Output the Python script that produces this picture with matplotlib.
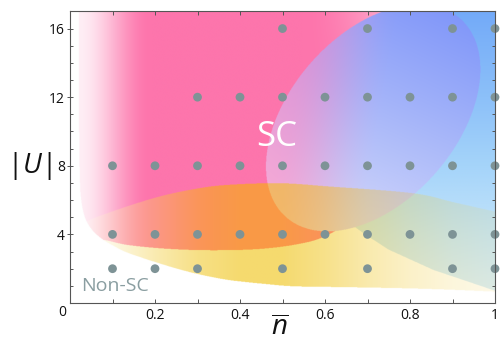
import numpy as np
import matplotlib
matplotlib.use('Agg')
import matplotlib.pyplot as plt
from matplotlib.path import Path

plt.rcParams['font.family'] = ['Open Sans', 'DejaVu Sans']
plt.rcParams['mathtext.fontset'] = 'custom'
plt.rcParams['mathtext.rm'] = 'Open Sans'
plt.rcParams['mathtext.it'] = 'Open Sans:italic'

# ---------------- data ----------------
U_rows = [16, 12, 8, 4, 2]
n_at_U16 = [0.5, 0.7, 0.9, 1.0]
n_at_U12 = [0.3, 0.4, 0.5, 0.6, 0.7, 0.8, 0.9, 1.0]
n_at_U8 = [0.1, 0.2, 0.3, 0.4, 0.5, 0.6, 0.7, 0.8, 0.9, 1.0]
n_at_U4 = [0.1, 0.2, 0.3, 0.4, 0.5, 0.6, 0.7, 0.8, 0.9, 1.0]
n_at_U2 = [0.1, 0.2, 0.3, 0.5, 0.7, 0.9, 1.0]

# SC / non-SC boundary
sc_edge_n = [0.020, 0.021, 0.023, 0.026, 0.031, 0.039, 0.055, 0.078, 0.10, 0.13, 0.17,
             0.21, 0.25, 0.29, 0.33, 0.37, 0.41, 0.45, 0.52, 0.60, 0.70, 0.80, 0.90, 1.0]
sc_edge_U = [17.5, 10.0, 7.0, 6.0, 5.3, 4.73, 4.15, 3.67, 3.35, 2.97, 2.62,
             2.30, 2.00, 1.74, 1.52, 1.34, 1.22, 1.12, 0.97, 0.93, 0.89, 0.84, 0.76, 0.65]
# upper edge of the yellow (weak coupling) region
yellow_top_n = [0.039, 0.055, 0.133, 0.211, 0.29, 0.368, 0.494, 0.611, 0.807, 0.905, 1.0]
yellow_top_U = [4.73, 4.93, 5.61, 6.20, 6.62, 6.87, 6.97, 6.78, 6.39, 5.85, 5.32]
# lower edge of the pink region
pink_bottom_n = [0.0, 0.078, 0.133, 0.211, 0.29, 0.37, 0.447, 0.525, 0.59, 0.65, 0.72]
pink_bottom_U = [3.9, 3.67, 3.38, 3.18, 3.08, 3.07, 3.14, 3.37, 3.77, 4.6, 6.0]
# lower edge of the blue region
blue_bottom_n = [0.60, 0.66, 0.70, 0.75, 0.855, 0.995, 1.0]
blue_bottom_U = [6.0, 4.6, 3.9, 3.1, 1.92, 0.75, 0.7]
# edge of the tilted (violet) ellipse
ellipse_edge_n = [0.800, 0.658, 0.581, 0.501, 0.475, 0.458, 0.474, 0.498, 0.537, 0.592,
                  0.611, 0.651, 0.729, 0.807, 0.870, 0.917, 0.964, 0.967, 0.962, 0.945]
ellipse_edge_U = [17.0, 15.27, 13.87, 12.53, 11.36, 9.33, 6.97, 6.0, 5.03, 3.86,
                  3.77, 4.06, 5.03, 6.39, 8.14, 10.08, 12.3, 13.6, 15.0, 17.0]

x_ticks = [0.2, 0.4, 0.6, 0.8, 1.0]
x_tick_labels = ['0.2', '0.4', '0.6', '0.8', '1']
y_ticks = [4, 8, 12, 16]
y_tick_labels = ['4', '8', '12', '16']


# ---------------- helpers ----------------
def smooth(a, b, x):
    t = np.clip((x - a) / (b - a), 0, 1)
    return t * t * (3 - 2 * t)


def catmull(xs, ys, k=12):
    P = np.column_stack([xs, ys]).astype(float)
    P = np.vstack([P[0], P, P[-1]])
    out = []
    for i in range(1, len(P) - 2):
        p0, p1, p2, p3 = P[i - 1], P[i], P[i + 1], P[i + 2]
        for s in np.linspace(0, 1, k, endpoint=False):
            out.append(0.5 * ((2 * p1) + (-p0 + p2) * s + (2 * p0 - 5 * p1 + 4 * p2 - p3) * s ** 2
                              + (-p0 + 3 * p1 - 3 * p2 + p3) * s ** 3))
    out.append(P[-2])
    out = np.array(out)
    return out[:, 0], out[:, 1]


def curve(xs, ys, x):
    cx, cy = catmull(xs, ys)
    order = np.argsort(cx)
    return np.interp(x, cx[order], cy[order])


def col(*rgb):
    return np.array(rgb, dtype=float) / 255.0


# ---------------- grid ----------------
W, H = 1000, 700
gn = np.linspace(0, 1, W)
gU = np.linspace(0, 17, H)
N, UU = np.meshgrid(gn, gU)
pts = np.column_stack([N.ravel(), UU.ravel()])

sx, sy = catmull(sc_edge_n, sc_edge_U)
poly = [(sx[0], 18.0)] + list(zip(sx, sy)) + [(1.2, sy[-1]), (1.2, 18.0)]
sc = Path(poly).contains_points(pts).reshape(N.shape)

ytop = curve(yellow_top_n, yellow_top_U, N)
pbot = curve(pink_bottom_n, pink_bottom_U, N)
bbot = np.interp(N, blue_bottom_n, blue_bottom_U)
in_yellow = sc & (UU < ytop)

# ellipse fit (conic) in pixel-like coordinates
ky = (291.6 / 17.0) / 425.0
ex = np.array(ellipse_edge_n)
ey = np.array(ellipse_edge_U) * ky
A = np.column_stack([ex ** 2, ex * ey, ey ** 2, ex, ey])
a_, b_, c_, d_, e_ = np.linalg.lstsq(A, np.ones_like(ex), rcond=None)[0]
M = np.array([[a_, b_ / 2], [b_ / 2, c_]])
g = np.array([d_, e_])
ctr = np.linalg.solve(2 * M, -g)
Qc = ctr @ M @ ctr + g @ ctr - 1
Mn = M / (-Qc)
qx = N - ctr[0]
qy = UU * ky - ctr[1]
r = Mn[0, 0] * qx ** 2 + 2 * Mn[0, 1] * qx * qy + Mn[1, 1] * qy ** 2
inE = sc & (r < 1)
w, V = np.linalg.eigh(Mn)
u = V[:, 0]
if u[1] < 0:
    u = -u
amaj = 1 / np.sqrt(w[0])
te = np.clip(((qx * u[0] + qy * u[1]) / amaj + 1) / 2, 0, 1)[..., None]

# ---------------- colours ----------------
white = col(255, 255, 255)
pink = col(253, 117, 172)
f = (0.12 + 0.88 * smooth(0.018, 0.19, N))[..., None]
pinkc = white * (1 - f) + pink * f
l = (0.5 * smooth(0.55, 0.85, N) * smooth(12, 17, UU))[..., None]
pinkc = pinkc * (1 - l) + white * l

bU = [0, 4, 8, 12, 17]
bR = [222, 195, 165, 140, 115]
bG = [240, 228, 212, 192, 170]
bB = [250, 250, 250, 249, 248]
bluec = np.stack([np.interp(UU, bU, bR), np.interp(UU, bU, bG), np.interp(UU, bU, bB)], -1) / 255.0

side = N - (0.62 + (UU - 3.8) * 0.27 / 13.2)
pinkside = side < 0
base_out = np.where(pinkside[..., None], pinkc, bluec)

wb = smooth(-0.12, 0.12, N - (0.58 + (UU - 3.8) * 0.08 / 13.2))[..., None]
base_in = pinkc * (1 - wb) + bluec * wb
Ecol = col(240, 215, 250) * (1 - te) + col(140, 135, 250) * te
col_in = base_in * 0.45 + Ecol * 0.55

ay = np.interp(N, [0.03, 0.1, 0.2, 0.3, 0.4, 0.5, 0.6, 0.7, 0.8, 0.9, 1.0],
               [0.0, 0.15, 0.4, 0.62, 0.74, 0.74, 0.6, 0.42, 0.28, 0.18, 0.12])[..., None]
Yw = col(242, 205, 60)
Yo = col(248, 172, 20)

img = np.ones(N.shape + (3,))
img = np.where(sc[..., None], base_out, img)
img = np.where(inE[..., None], col_in, img)

ao = ay * 0.9
orange = pinkc * (1 - ao) + Yo * ao
lt = (0.25 * (1 - smooth(0.05, 0.35, N)))[..., None]
orange = orange * (1 - lt) + white * lt
at = ay * 0.9
tan = col_in * (1 - at) + col(240, 190, 50) * at
yb = bluec * (1 - ay) + Yw * ay
yw = white * (1 - ay) + Yw * ay

m_tan = in_yellow & inE
m_or = in_yellow & ~inE & pinkside & (UU > pbot)
m_yb = in_yellow & ~inE & ~pinkside & (UU > bbot)
m_yw = in_yellow & ~inE & ~m_or & ~m_yb
img = np.where(m_yw[..., None], yw, img)
img = np.where(m_yb[..., None], yb, img)
img = np.where(m_or[..., None], orange, img)
img = np.where(m_tan[..., None], tan, img)
img = np.clip(img, 0, 1)

# ---------------- figure ----------------
fig = plt.figure(figsize=(5, 3.41), dpi=100)
ax = fig.add_axes([70 / 500, 38 / 341, 425 / 500, 291.6 / 341])
ax.imshow(img, extent=[0, 1, 0, 17], origin='lower', aspect='auto', interpolation='antialiased', zorder=0)
ax.set_xlim(0, 1)
ax.set_ylim(0, 17)

dot_color = '#7e9396'
for Uv, ns in zip(U_rows, [n_at_U16, n_at_U12, n_at_U8, n_at_U4, n_at_U2]):
    ax.scatter(ns, [Uv] * len(ns), s=40, color=dot_color, edgecolors='none', zorder=5, clip_on=False)

ax.text(0.487, 9.67, 'SC', color='white', fontsize=25, ha='center', va='center', zorder=6)
ax.text(0.027, 0.98, 'Non-SC', color='#8a9ea1', fontsize=14, ha='left', va='center', zorder=6)

ax.set_xticks(x_ticks)
ax.set_xticklabels(x_tick_labels)
ax.set_xticks(np.arange(0.1, 1.0, 0.2), minor=True)
ax.set_yticks(y_ticks)
ax.set_yticklabels(y_tick_labels)
ax.set_yticks([v for v in range(1, 17) if v % 4 != 0], minor=True)
ax.tick_params(axis='x', which='both', direction='in', top=True, length=2.6, width=0.7,
               color='#555555', labelsize=10, labelcolor='#111111', pad=3.4)
ax.tick_params(axis='y', which='major', direction='inout', right=True, length=4.2, width=0.7,
               color='#555555', labelsize=10, labelcolor='#111111', pad=1.5)
ax.tick_params(axis='y', which='minor', direction='in', right=True, length=2.4, width=0.7,
               color='#555555')
for sp in ax.spines.values():
    sp.set_color('#555555')
    sp.set_linewidth(0.8)
    sp.set_zorder(7)

fig.text(62 / 500, 1 - 312 / 341, '0', fontsize=10, color='#111111', ha='center', va='center')
fig.text(280 / 500, 1 - 328 / 341, r'$\overline{n}$', fontsize=20, color='#111111', ha='center', va='center')
fig.text(29 / 500, 1 - 166 / 341, r'$|U|$', fontsize=20, color='#111111', ha='center', va='center')

fig.savefig('out.png', dpi=100)
